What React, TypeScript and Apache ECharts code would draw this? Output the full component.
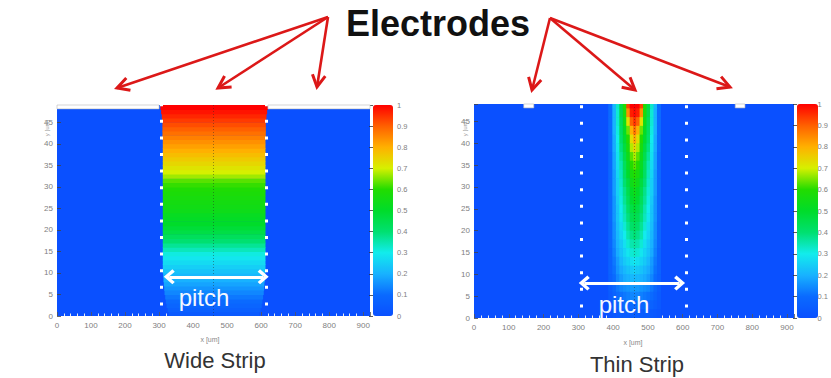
import React, { useEffect, useRef } from 'react';
import * as echarts from 'echarts';

// ---------- data ----------
const X_MAX = 920;
const Y_MAX = 49;

// colour scale 0 .. 1 (step 0.1)
const rainbow = [
  '#0a50ff', '#0a6aff', '#18b2ff', '#12ecec', '#00e070',
  '#00dc2a', '#22dc00', '#d6f000', '#ffb000', '#ff6000', '#ff0000',
];

// Wide strip: value per 1 um row (y = 0 .. 48) inside the strip
const wideCenter = 461;
const wideProfile = [
  0.04, 0.06, 0.08, 0.10, 0.12, 0.14, 0.16, 0.18, 0.20, 0.21,
  0.23, 0.25, 0.27, 0.29, 0.31, 0.34, 0.37, 0.40, 0.43, 0.46,
  0.48, 0.50, 0.51, 0.52, 0.54, 0.55, 0.56, 0.57, 0.58, 0.59,
  0.61, 0.63, 0.67, 0.70, 0.72, 0.74, 0.76, 0.78, 0.80, 0.82,
  0.84, 0.86, 0.88, 0.90, 0.92, 0.94, 0.96, 0.98, 1.00,
];
// half width of the coloured region per row (um)
const wideHalf = [
  132, 136, 139, 141, 143, 145, 146, 147, 148, 149,
  150, 150, 150, 150, 150, 150, 150, 150, 150, 150,
  150, 150, 150, 150, 150, 150, 150, 150, 150, 150,
  150, 150, 150, 150, 150, 150, 150, 150, 150, 150,
  150, 151, 151, 151, 151, 152, 153, 155, 157,
];
const wideElectrodes = [[0, 300], [620, 920]];
const wideBoundaries = [306, 614];
const widePitch = [325, 611, 9.1];

// Thin strip: rows (bottom of 2 um band) x offsets from centre
const thinCenter = 461;
const thinRowY = [48, 46, 44, 42, 40, 38, 36, 34, 32, 30, 28, 26, 24, 22, 20, 18, 16, 14, 12, 10, 8, 6, 4, 2, 0];
const thinOffsets = [0, 10, 20, 30, 40, 50, 60, 70];
const thinValues = [
  [1.00, 1.00, 0.93, 0.60, 0.46, 0.33, 0.21, 0.10],
  [0.99, 0.97, 0.84, 0.57, 0.45, 0.32, 0.20, 0.10],
  [0.95, 0.90, 0.72, 0.54, 0.43, 0.32, 0.20, 0.10],
  [0.88, 0.80, 0.64, 0.51, 0.42, 0.31, 0.20, 0.10],
  [0.81, 0.73, 0.60, 0.49, 0.41, 0.30, 0.19, 0.10],
  [0.74, 0.68, 0.57, 0.47, 0.39, 0.29, 0.19, 0.10],
  [0.68, 0.63, 0.54, 0.45, 0.37, 0.28, 0.18, 0.09],
  [0.63, 0.60, 0.52, 0.43, 0.35, 0.27, 0.18, 0.09],
  [0.60, 0.57, 0.50, 0.42, 0.34, 0.26, 0.17, 0.09],
  [0.57, 0.54, 0.47, 0.40, 0.33, 0.25, 0.17, 0.09],
  [0.54, 0.51, 0.45, 0.38, 0.32, 0.25, 0.17, 0.09],
  [0.52, 0.49, 0.43, 0.37, 0.31, 0.24, 0.16, 0.09],
  [0.49, 0.46, 0.41, 0.35, 0.30, 0.23, 0.16, 0.09],
  [0.46, 0.44, 0.39, 0.34, 0.29, 0.23, 0.16, 0.09],
  [0.43, 0.41, 0.37, 0.32, 0.27, 0.22, 0.15, 0.08],
  [0.40, 0.38, 0.35, 0.30, 0.26, 0.21, 0.15, 0.08],
  [0.36, 0.35, 0.32, 0.28, 0.24, 0.20, 0.14, 0.08],
  [0.33, 0.32, 0.29, 0.26, 0.23, 0.19, 0.13, 0.07],
  [0.29, 0.28, 0.26, 0.24, 0.21, 0.17, 0.12, 0.07],
  [0.25, 0.24, 0.23, 0.21, 0.19, 0.16, 0.11, 0.07],
  [0.21, 0.21, 0.20, 0.19, 0.17, 0.14, 0.10, 0.06],
  [0.17, 0.17, 0.16, 0.15, 0.14, 0.12, 0.09, 0.05],
  [0.14, 0.14, 0.13, 0.12, 0.11, 0.10, 0.07, 0.04],
  [0.10, 0.10, 0.09, 0.09, 0.08, 0.07, 0.05, 0.03],
  [0.06, 0.06, 0.05, 0.05, 0.05, 0.04, 0.03, 0.02],
];
const thinElectrodes = [[143, 172], [751, 779]];
const thinBoundaries = [307, 610];
const thinPitch = [312, 596, 8];

// ---------- build cells ----------
function buildWide() {
  const out: number[][] = [];
  wideProfile.forEach((v, r) => {
    out.push([wideCenter - wideHalf[r], wideCenter + wideHalf[r], r, r + 1, v]);
  });
  return out;
}
function buildThin() {
  const out: number[][] = [];
  thinRowY.forEach((y0, i) => {
    const y1 = Math.min(y0 + 2, Y_MAX);
    thinOffsets.forEach((off, j) => {
      const v = thinValues[i][j];
      out.push([thinCenter + off - 5, thinCenter + off + 5, y0, y1, v]);
      if (off > 0) out.push([thinCenter - off - 5, thinCenter - off + 5, y0, y1, v]);
    });
  });
  return out;
}

const FONT = '"Liberation Sans", Arial, Helvetica, sans-serif';

const cellRender = (params: any, api: any) => {
  const a = api.coord([api.value(0), api.value(3)]);
  const b = api.coord([api.value(1), api.value(2)]);
  return {
    type: 'rect',
    shape: { x: a[0], y: a[1], width: b[0] - a[0] + 0.6, height: b[1] - a[1] + 0.6 },
    style: { fill: api.visual('color') },
  };
};
const electrodeRender = (params: any, api: any) => {
  const a = api.coord([api.value(0), Y_MAX]);
  const b = api.coord([api.value(1), Y_MAX - 0.9]);
  return {
    type: 'rect',
    shape: { x: a[0], y: a[1], width: b[0] - a[0], height: b[1] - a[1] },
    style: { fill: '#ffffff', stroke: '#b8b8b8', lineWidth: 0.6 },
  };
};

const chevron = 'path://M8,0 L16,9 L13.5,11.5 L8,5.2 L2.5,11.5 L0,9 Z';

export default function App() {
  const ref = useRef<HTMLDivElement>(null);
  useEffect(() => {
    if (!ref.current) return;
    const chart = echarts.init(ref.current, undefined, { renderer: 'svg' });

    const grids = [
      { left: 57, top: 105, width: 313, height: 211 },
      { left: 474, top: 104, width: 320, height: 214 },
    ];
    const bars = [
      { left: 373, top: 105, width: 20, height: 211 },
      { left: 797, top: 104, width: 21, height: 214 },
    ];

    const xAxisBase = (gi: number) => ({
      type: 'value', gridIndex: gi, min: 0, max: X_MAX, interval: 100,
      axisLine: { show: false },
      axisTick: { show: true, inside: true, length: 4, lineStyle: { color: '#555', width: 0.8 } },
      minorTick: { show: true, splitNumber: 5, length: 2.5, lineStyle: { color: '#eeeeee', width: 1 } },
      splitLine: { show: false },
      axisLabel: {
        fontSize: 8, color: '#808080', fontFamily: FONT, margin: 5,
        formatter: (v: number) => (v % 100 === 0 && v <= 900 ? String(v) : ''),
      },
    });
    const yAxisBase = (gi: number) => ({
      type: 'value', gridIndex: gi, min: 0, max: Y_MAX, interval: 5,
      axisLine: { show: false },
      axisTick: { show: true, inside: true, length: 4, lineStyle: { color: '#444', width: 0.8 } },
      splitLine: { show: false },
      axisLabel: {
        fontSize: 8, color: '#808080', fontFamily: FONT, margin: 4,
        formatter: (v: number) => (v % 5 === 0 && v <= 45 ? String(v) : ''),
      },
    });
    const barX = (gi: number) => ({ type: 'value', gridIndex: gi, show: false, min: 0, max: 1 });
    const barY = (gi: number) => ({
      type: 'value', gridIndex: gi, position: 'right', min: 0, max: 1, interval: 0.1,
      axisLine: { show: false },
      axisTick: { show: true, inside: true, length: 4, lineStyle: { color: '#333', width: 0.8 } },
      splitLine: { show: false },
      axisLabel: {
        fontSize: 7.5, color: '#808080', fontFamily: FONT, margin: 4,
        formatter: (v: number) => (v === 0 ? '0' : v >= 0.999 ? '1' : v.toFixed(1)),
      },
    });

    const annot = (gi: number, bounds: number[], center: number, pitch: number[]) => [
      {
        type: 'line', xAxisIndex: gi, yAxisIndex: gi, data: [], z: 6, silent: true,
        markLine: {
          silent: true, symbol: ['none', 'none'], animation: false,
          label: { show: false },
          lineStyle: { color: 'rgba(40,40,40,0.45)', width: 1, type: [1, 2] },
          data: [[{ coord: [center, 0] }, { coord: [center, Y_MAX] }]],
        },
      },
      {
        type: 'line', xAxisIndex: gi, yAxisIndex: gi, data: [], z: 7, silent: true,
        markLine: {
          silent: true, symbol: ['none', 'none'], animation: false,
          label: { show: false },
          lineStyle: { color: '#ffffff', width: 3, type: [3, 13.6], dashOffset: 6, opacity: 1 },
          data: bounds.map((b) => [{ coord: [b, 0] }, { coord: [b, Y_MAX] }]),
        },
      },
      {
        type: 'line', xAxisIndex: gi, yAxisIndex: gi, data: [], z: 8, silent: true,
        markLine: {
          silent: true, symbol: [chevron, chevron], symbolSize: [15, 11], animation: false,
          label: { show: false },
          lineStyle: { color: '#ffffff', width: 3, type: 'solid', opacity: 1 },
          itemStyle: { color: '#ffffff' },
          data: [[{ coord: [pitch[0] + 5, pitch[2]] }, { coord: [pitch[1] - 5, pitch[2]] }]],
        },
      },
    ];

    const red = '#dc1818';
    const arrows = [
      { f: [328, 17], t: [117, 88] },
      { f: [328, 17], t: [218, 88] },
      { f: [328, 17], t: [317, 87] },
      { f: [550, 18], t: [532, 90] },
      { f: [550, 18], t: [635, 90] },
      { f: [550, 18], t: [730, 87] },
    ];
    const arrowEls: any[] = [];
    arrows.forEach(({ f, t }) => {
      const dx = t[0] - f[0];
      const dy = t[1] - f[1];
      const L = Math.hypot(dx, dy);
      const ux = dx / L;
      const uy = dy / L;
      const nx = -uy;
      const ny = ux;
      const hl = 12;
      const hw = 6.5;
      arrowEls.push({
        type: 'line', z: 100, shape: { x1: f[0], y1: f[1], x2: t[0], y2: t[1] },
        style: { stroke: red, lineWidth: 2.6 }, silent: true,
      });
      arrowEls.push({
        type: 'polyline', z: 100,
        shape: {
          points: [
            [t[0] - hl * ux + hw * nx, t[1] - hl * uy + hw * ny],
            [t[0], t[1]],
            [t[0] - hl * ux - hw * nx, t[1] - hl * uy - hw * ny],
          ],
        },
        style: { stroke: red, lineWidth: 3, fill: 'none', lineJoin: 'miter' }, silent: true,
      });
    });

    const text = (x: number, y: number, s: string, size: number, color: string, weight = 'normal', extra: any = {}) => ({
      type: 'text', x, y, z: 100, silent: true, ...extra,
      style: {
        text: s, fill: color, fontSize: size, fontWeight: weight, fontFamily: FONT,
        align: 'center', verticalAlign: 'middle',
      },
    });

    const option: any = {
      animation: false,
      backgroundColor: '#ffffff',
      grid: [
        { ...grids[0], show: true, backgroundColor: rainbow[0], borderWidth: 0 },
        { ...grids[1], show: true, backgroundColor: rainbow[0], borderWidth: 0 },
        { ...bars[0], show: false },
        { ...bars[1], show: false },
      ],
      xAxis: [xAxisBase(0), xAxisBase(1), barX(2), barX(3)],
      yAxis: [yAxisBase(0), yAxisBase(1), barY(2), barY(3)],
      visualMap: [
        {
          type: 'continuous', seriesIndex: 0, dimension: 4, min: 0, max: 1,
          inRange: { color: rainbow }, calculable: false, orient: 'vertical',
          left: bars[0].left, top: bars[0].top, itemWidth: bars[0].width, itemHeight: bars[0].height,
          padding: 0, text: undefined, hoverLink: false,
        },
        {
          type: 'continuous', seriesIndex: 1, dimension: 4, min: 0, max: 1,
          inRange: { color: rainbow }, calculable: false, orient: 'vertical',
          left: bars[1].left, top: bars[1].top, itemWidth: bars[1].width, itemHeight: bars[1].height,
          padding: 0, text: undefined, hoverLink: false,
        },
      ],
      series: [
        {
          type: 'custom', xAxisIndex: 0, yAxisIndex: 0, renderItem: cellRender, clip: true,
          encode: { x: [0, 1], y: [2, 3] }, data: buildWide(), z: 2, silent: true,
        },
        {
          type: 'custom', xAxisIndex: 1, yAxisIndex: 1, renderItem: cellRender, clip: true,
          encode: { x: [0, 1], y: [2, 3] }, data: buildThin(), z: 2, silent: true,
        },
        {
          type: 'custom', xAxisIndex: 0, yAxisIndex: 0, renderItem: electrodeRender,
          encode: { x: [0, 1] }, data: wideElectrodes, z: 9, silent: true,
        },
        {
          type: 'custom', xAxisIndex: 1, yAxisIndex: 1, renderItem: electrodeRender,
          encode: { x: [0, 1] }, data: thinElectrodes, z: 9, silent: true,
        },
        ...annot(0, wideBoundaries, 460, widePitch),
        ...annot(1, thinBoundaries, 462, thinPitch),
      ],
      graphic: [
        ...arrowEls,
        text(438, 23.5, 'Electrodes', 36, '#111111', 'bold'),
        text(204, 297, 'pitch', 24, '#f4f8ff'),
        text(624, 304, 'pitch', 24, '#f4f8ff'),
        text(210, 339, 'x [um]', 7, '#888888'),
        text(633, 342, 'x [um]', 7, '#888888'),
        text(215, 360, 'Wide Strip', 22, '#333333'),
        text(637, 364, 'Thin Strip', 22, '#333333'),
        text(47, 128, 'y [um]', 6, '#999999', 'normal', { rotation: Math.PI / 2 }),
        text(465, 128, 'y [um]', 6, '#999999', 'normal', { rotation: Math.PI / 2 }),
      ],
    };
    chart.setOption(option);
    return () => chart.dispose();
  }, []);
  return (
    <div
      ref={ref}
      style={{ position: 'fixed', left: 0, top: 0, width: 831, height: 378, background: '#fff' }}
    />
  );
}
